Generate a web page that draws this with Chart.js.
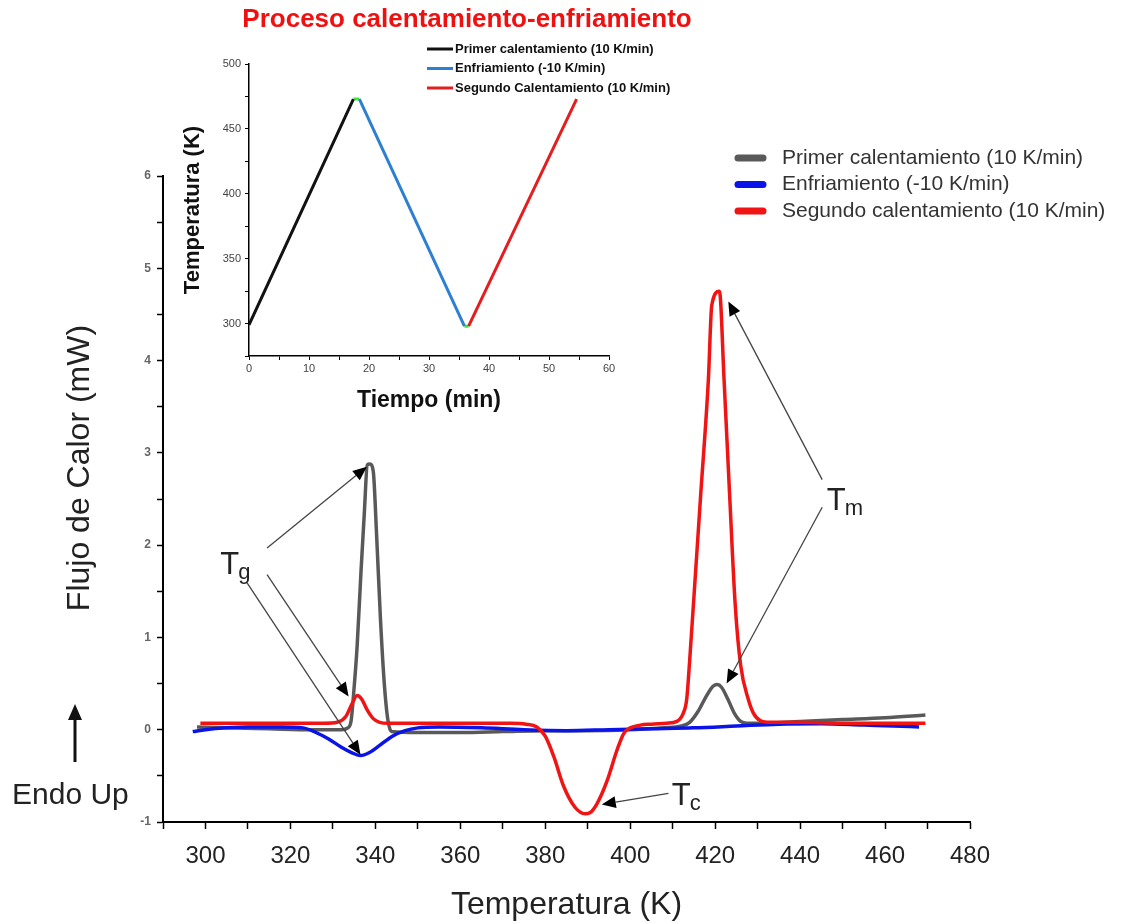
<!DOCTYPE html>
<html lang="es">
<head>
<meta charset="UTF-8">
<title>DSC calentamiento-enfriamiento</title>
<script src="https://cdn.jsdelivr.net/npm/chart.js@4.4.1/dist/chart.umd.min.js"></script>
<style>
    body { margin: 0; background: #fff; }
    #wrap { position: relative; width: 1123px; height: 924px; }
    #main { position: absolute; left: 0; top: 0; }
    #inset { position: absolute; left: 150px; top: 0; }
</style>
</head>
<body>
<div id="wrap">
    <canvas id="main" width="1123" height="924"></canvas>
    <canvas id="inset" width="634" height="420"></canvas>
</div>
<script>
    // --- curvas DSC: temperatura (K) y flujo de calor (mW)
    var tempPrimer = [298, 305, 315, 325, 332, 333.5, 334.3, 334.9, 335.7, 336.6, 337.4, 338.1, 338.7, 339.5, 340.3,
        341.2, 342.1, 342.9, 343.8, 350, 360, 370, 380, 390, 400, 408, 412, 414, 416, 418,
        419.5, 420.5, 421.5, 423, 424.5, 426, 427.5, 430, 440, 450, 460, 469.5];
    var flujoPrimer = [0.03, 0.02, 0.01, 0, 0, 0.02, 0.1, 0.4, 0.9, 1.7, 2.35, 2.87, 2.88, 2.8, 2.1,
        1.2, 0.5, 0.12, -0.02, -0.03, -0.03, -0.02, -0.01, -0.01, 0, 0.02, 0.04, 0.08, 0.2, 0.37,
        0.47, 0.49, 0.46, 0.33, 0.18, 0.09, 0.07, 0.07, 0.09, 0.11, 0.13, 0.16];

    var tempEnfr = [297, 300, 305, 310, 318, 323, 326, 329, 332, 334.5, 336.5, 338.5, 341, 344, 347,
        350, 355, 365, 375, 385, 395, 405, 415, 425, 435, 445, 455, 462, 468];
    var flujoEnfr = [-0.02, 0, 0.02, 0.03, 0.03, 0.02, -0.03, -0.1, -0.19, -0.25, -0.28, -0.25, -0.17, -0.07, -0.01,
        0.02, 0.03, 0.02, 0, -0.01, 0, 0.01, 0.02, 0.04, 0.06, 0.065, 0.05, 0.04, 0.03];

    var tempSegundo = [298.8, 310, 320, 328, 331, 333, 334.5, 335.7, 336.8, 338, 339.5, 341, 343, 355, 365,
        372, 375.5, 378, 380, 382, 384.3, 387, 389.4, 390.5, 392.2, 394.5, 396.9, 398.5, 400, 402.4,
        405, 408.6, 411, 412.5, 413.3, 414, 414.9, 416.6, 418.4, 419.2, 421, 422.1, 423.4, 424.7, 426,
        427.8, 429, 430.6, 433, 440, 450, 460, 469.5];
    var flujoSegundo = [0.07, 0.07, 0.07, 0.07, 0.08, 0.14, 0.28, 0.37, 0.33, 0.22, 0.12, 0.08, 0.07, 0.07, 0.07,
        0.07, 0.06, 0.03, -0.07, -0.29, -0.61, -0.84, -0.91, -0.9, -0.8, -0.56, -0.22, -0.04, 0.02, 0.05,
        0.06, 0.07, 0.09, 0.18, 0.33, 0.75, 1.37, 2.55, 3.79, 4.6, 4.75, 3.79, 2.55, 1.37, 0.7,
        0.33, 0.18, 0.1, 0.08, 0.08, 0.07, 0.07, 0.07];

    var etiquetasDSC = ['Primer calentamiento (10 K/min)', 'Enfriamiento (-10 K/min)', 'Segundo calentamiento (10 K/min)'];

    // --- programa de temperatura del recuadro: tiempo (min) y temperatura (K)
    var tiempoPrimer = [0, 17.4];
    var tempProgPrimer = [299, 473];
    var tiempoEnfr = [18.4, 35.9];
    var tempProgEnfr = [473, 298];
    var tiempoSegundo = [36.6, 54.6];
    var tempProgSegundo = [298, 473];
    var tiempoCambio = [17.4, 18.4, null, 35.9, 36.6];
    var tempCambio = [473, 473, null, 298, 298];

    var etiquetasProg = ['Primer calentamiento (10 K/min)', 'Enfriamiento (-10 K/min)', 'Segundo Calentamiento (10 K/min)'];
    var tituloRecuadro = 'Proceso calentamiento-enfriamiento';

    // --- anotaciones (en unidades de los ejes): [x1, y1, x2, y2]
    var flechasTg = [[314.5, 1.97, 338.0, 2.85], [314.5, 1.68, 333.7, 0.36], [309.8, 1.59, 336.5, -0.27]];
    var flechasTm = [[445.2, 2.71, 423.1, 4.64], [445.2, 2.41, 422.7, 0.5]];
    var flechasTc = [[409.0, -0.69, 393.3, -0.81]];
    var textoTg = [303.5, 1.69, 'g'];
    var textoTm = [446.3, 2.38, 'm'];
    var textoTc = [409.8, -0.82, 'c'];

    var FONT = "'Liberation Sans', Arial, sans-serif";

    function puntos(xs, ys) {
        return xs.map(function (x, i) {
            return x === null ? {x: null, y: null} : {x: x, y: ys[i]};
        });
    }

    function flecha(ctx, x1, y1, x2, y2, L, W) {
        var a = Math.atan2(y2 - y1, x2 - x1);
        L = L || 14; W = W || 6;
        var bx = x2 - L * Math.cos(a), by = y2 - L * Math.sin(a);
        ctx.beginPath();
        ctx.moveTo(x1, y1);
        ctx.lineTo(bx, by);
        ctx.stroke();
        ctx.beginPath();
        ctx.moveTo(x2, y2);
        ctx.lineTo(bx + W * Math.sin(a), by - W * Math.cos(a));
        ctx.lineTo(bx - W * Math.sin(a), by + W * Math.cos(a));
        ctx.closePath();
        ctx.fill();
    }

    var extrasPrincipal = {
        id: 'extrasPrincipal',
        afterDraw: function (chart) {
            var ctx = chart.ctx, sx = chart.scales.x, sy = chart.scales.y;
            ctx.save();

            // titulo eje y
            ctx.fillStyle = '#222';
            ctx.font = '32px ' + FONT;
            ctx.textAlign = 'center';
            ctx.textBaseline = 'middle';
            ctx.translate(80, 468);
            ctx.rotate(-Math.PI / 2);
            ctx.fillText('Flujo de Calor (mW)', 0, 0);
            ctx.setTransform(1, 0, 0, 1, 0, 0);

            // Endo Up
            ctx.textAlign = 'left';
            ctx.textBaseline = 'alphabetic';
            ctx.font = '30px ' + FONT;
            ctx.fillText('Endo Up', 12, 804);
            ctx.strokeStyle = '#111';
            ctx.fillStyle = '#111';
            ctx.lineWidth = 3;
            flecha(ctx, 75, 762, 75, 704, 16, 7);

            // leyenda
            chart.data.datasets.forEach(function (ds, i) {
                var y = 158 + i * 26.5;
                ctx.strokeStyle = ds.borderColor;
                ctx.lineWidth = 7;
                ctx.lineCap = 'round';
                ctx.beginPath();
                ctx.moveTo(738, y);
                ctx.lineTo(763, y);
                ctx.stroke();
                ctx.fillStyle = '#333';
                ctx.font = '21px ' + FONT;
                ctx.textBaseline = 'middle';
                ctx.fillText(ds.label, 782, y);
            });
            ctx.lineCap = 'butt';

            // flechas de anotacion
            ctx.strokeStyle = '#444';
            ctx.fillStyle = '#000';
            ctx.lineWidth = 1.3;
            flechasTg.concat(flechasTm, flechasTc).forEach(function (f) {
                flecha(ctx, sx.getPixelForValue(f[0]), sy.getPixelForValue(f[1]),
                    sx.getPixelForValue(f[2]), sy.getPixelForValue(f[3]));
            });

            // etiquetas T con subindice
            ctx.fillStyle = '#222';
            ctx.textBaseline = 'alphabetic';
            [textoTg, textoTm, textoTc].forEach(function (t) {
                var px = sx.getPixelForValue(t[0]), py = sy.getPixelForValue(t[1]);
                ctx.font = '31px ' + FONT;
                ctx.fillText('T', px, py);
                var w = ctx.measureText('T').width;
                ctx.font = '22px ' + FONT;
                ctx.fillText(t[2], px + w - 1, py + 5);
            });
            ctx.restore();
        }
    };

    var extrasRecuadro = {
        id: 'extrasRecuadro',
        afterDraw: function (chart) {
            var ctx = chart.ctx;
            ctx.save();
            // titulo del recuadro
            ctx.fillStyle = '#f01010';
            ctx.font = 'bold 26px ' + FONT;
            ctx.textAlign = 'center';
            ctx.textBaseline = 'middle';
            ctx.fillText(tituloRecuadro, 317, 20);
            // leyenda
            ctx.textAlign = 'left';
            etiquetasProg.forEach(function (lab, i) {
                var ds = chart.data.datasets[i];
                var y = 49 + i * 19.5;
                ctx.strokeStyle = ds.borderColor;
                ctx.lineWidth = 3;
                ctx.beginPath();
                ctx.moveTo(277, y);
                ctx.lineTo(303, y);
                ctx.stroke();
                ctx.fillStyle = '#111';
                ctx.font = 'bold 13px ' + FONT;
                ctx.fillText(lab, 305, y);
            });
            ctx.restore();
        }
    };

    var ejeNegro = {color: '#000', width: 2};

    new Chart(document.getElementById('main').getContext('2d'), {
        type: 'line',
        data: {
            datasets: [{
                label: etiquetasDSC[0],
                data: puntos(tempPrimer, flujoPrimer),
                borderColor: '#595959',
                order: 3
            }, {
                label: etiquetasDSC[1],
                data: puntos(tempEnfr, flujoEnfr),
                borderColor: '#0a14e8',
                order: 2
            }, {
                label: etiquetasDSC[2],
                data: puntos(tempSegundo, flujoSegundo),
                borderColor: '#f01414',
                order: 1
            }]
        },
        options: {
            responsive: false,
            animation: false,
            layout: {padding: {top: 176, right: 153, left: 0, bottom: 0}},
            elements: {
                line: {borderWidth: 3.5, cubicInterpolationMode: 'monotone'},
                point: {radius: 0}
            },
            plugins: {legend: {display: false}, tooltip: {enabled: false}},
            scales: {
                x: {
                    type: 'linear',
                    min: 290,
                    max: 480,
                    afterFit: function (s) { s.height = 102; },
                    border: ejeNegro,
                    grid: {drawOnChartArea: false, tickLength: 7, tickColor: '#000', tickWidth: 1.5},
                    ticks: {
                        stepSize: 10,
                        padding: 13,
                        maxRotation: 0,
                        autoSkip: false,
                        color: '#222',
                        font: {family: FONT, size: 24},
                        callback: function (v) { return v % 20 === 0 ? v : ''; }
                    },
                    title: {
                        display: true,
                        text: 'Temperatura (K)',
                        color: '#222',
                        font: {family: FONT, size: 32},
                        padding: {top: 0, bottom: 0}
                    }
                },
                y: {
                    min: -1,
                    max: 6,
                    afterFit: function (s) { s.width = 163; },
                    border: ejeNegro,
                    grid: {drawOnChartArea: false, tickLength: 6, tickColor: '#000', tickWidth: 1.5},
                    ticks: {
                        stepSize: 0.5,
                        padding: 6,
                        autoSkip: false,
                        color: '#666',
                        font: {family: FONT, size: 12, weight: 'bold'},
                        callback: function (v) { return Number.isInteger(v) ? v : ''; }
                    }
                }
            }
        },
        plugins: [extrasPrincipal]
    });

    var ejeFino = {color: '#000', width: 1.5};

    new Chart(document.getElementById('inset').getContext('2d'), {
        type: 'line',
        data: {
            datasets: [{
                label: etiquetasProg[0],
                data: puntos(tiempoPrimer, tempProgPrimer),
                borderColor: '#111'
            }, {
                label: etiquetasProg[1],
                data: puntos(tiempoEnfr, tempProgEnfr),
                borderColor: '#2d7fd2'
            }, {
                label: etiquetasProg[2],
                data: puntos(tiempoSegundo, tempProgSegundo),
                borderColor: '#e41e1e'
            }, {
                label: 'cambio',
                data: puntos(tiempoCambio, tempCambio),
                borderColor: '#3fe83f',
                spanGaps: false
            }]
        },
        options: {
            responsive: false,
            animation: false,
            layout: {padding: {top: 64, right: 175, left: 0, bottom: 0}},
            elements: {
                line: {borderWidth: 3, tension: 0},
                point: {radius: 0}
            },
            plugins: {
                legend: {display: false},
                tooltip: {enabled: false}
            },
            scales: {
                x: {
                    type: 'linear',
                    min: 0,
                    max: 60,
                    afterFit: function (s) { s.height = 64; },
                    border: ejeFino,
                    grid: {drawOnChartArea: false, tickLength: 4, tickColor: '#000', tickWidth: 1},
                    ticks: {
                        stepSize: 5,
                        padding: 2,
                        maxRotation: 0,
                        autoSkip: false,
                        color: '#444',
                        font: {family: FONT, size: 11},
                        callback: function (v) { return v % 10 === 0 ? v : ''; }
                    },
                    title: {
                        display: true,
                        text: 'Tiempo (min)',
                        color: '#111',
                        font: {family: FONT, size: 23, weight: 'bold'},
                        padding: {top: 0, bottom: 6}
                    }
                },
                y: {
                    min: 275,
                    max: 500,
                    afterFit: function (s) { s.width = 99; },
                    border: ejeFino,
                    grid: {drawOnChartArea: false, tickLength: 4, tickColor: '#000', tickWidth: 1},
                    ticks: {
                        stepSize: 25,
                        padding: 4,
                        autoSkip: false,
                        color: '#444',
                        font: {family: FONT, size: 11},
                        callback: function (v) { return v % 50 === 0 ? v : ''; }
                    },
                    title: {
                        display: true,
                        text: 'Temperatura (K)',
                        color: '#111',
                        font: {family: FONT, size: 22, weight: 'bold'},
                        padding: {top: 30, bottom: 0}
                    }
                }
            }
        },
        plugins: [extrasRecuadro]
    });
</script>
</body>
</html>
